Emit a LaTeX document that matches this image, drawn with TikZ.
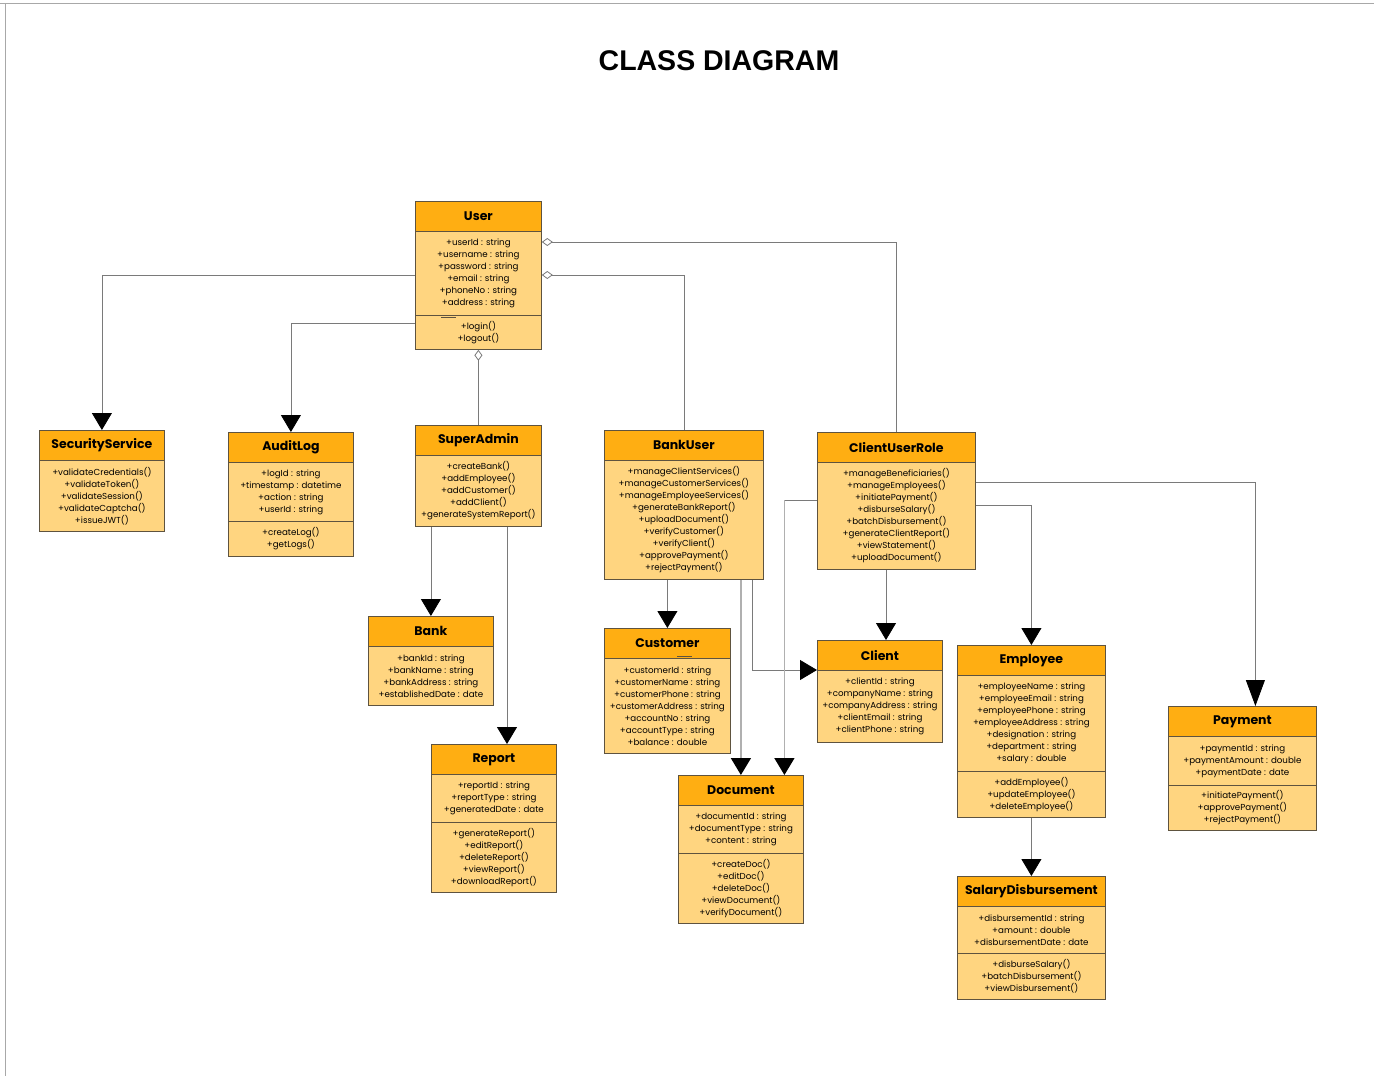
\documentclass[tikz,border=0pt]{standalone}
\usepackage{fontspec}
\newfontfamily\pop{Poppins}
\newfontfamily\ttlfont{Liberation Sans}
\usetikzlibrary{arrows.meta}
\definecolor{hdrc}{HTML}{FFAE12}
\definecolor{bodyc}{HTML}{FFD580}
\definecolor{bordc}{HTML}{5E533F}
\definecolor{connc}{HTML}{7A7A7A}
\definecolor{docc}{HTML}{B0B0B0}
\definecolor{framec}{HTML}{A8A8A8}
\begin{document}
\begin{tikzpicture}[x=1pt,y=-1pt,
  hdr/.style={draw=bordc, fill=hdrc, line width=0.8pt, anchor=north west, inner sep=0pt, minimum height=30pt, font=\pop\bfseries\fontsize{12.5}{14}\selectfont, text=black},
  comp/.style={draw=bordc, fill=bodyc, line width=0.8pt, anchor=north west, inner sep=0pt, align=center, font=\pop\fontsize{8.7}{12}\selectfont, text=black},
  conn/.style={draw=connc, line width=0.8pt},
  docconn/.style={draw=docc, line width=1.6pt},
  arr/.style={-{Triangle[width=20pt,length=17pt,color=black]}},
  longarr/.style={-{Triangle[width=19pt,length=26pt,color=black]}},
  agg/.style={{Diamond[length=11pt,width=8pt,fill=white]}-}
]
\useasboundingbox (0,0) rectangle (1374,1076);
\fill[white] (0,0) rectangle (1374,1076);
\draw[framec, line width=1pt] (0,3) -- (1374,3);
\draw[framec, line width=1pt] (5,3) -- (5,1076);

\node[font=\ttlfont\bfseries\fontsize{28.5}{32}\selectfont] (title) at (719,61) {CLASS DIAGRAM};

% User
\node[hdr, minimum width=126pt] (user) at (415,201) {User};
\node[comp, minimum width=126pt, minimum height=84pt] (ua) at (415,231) {+userId : string\\+username : string\\+password : string\\+email : string\\+phoneNo : string\\+address : string};
\node[comp, minimum width=126pt, minimum height=34pt] (um) at (415,315) {+login()\\+logout()};
\draw[bordc, line width=0.5pt] (441,317) -- (456,317);

% SecurityService
\node[hdr, minimum width=125pt] (sec) at (39,430) {SecurityService};
\node[comp, minimum width=125pt, minimum height=71pt] (secm) at (39,460) {+validateCredentials()\\+validateToken()\\+validateSession()\\+validateCaptcha()\\+issueJWT()};

% AuditLog
\node[hdr, minimum width=125pt] (aud) at (228,432) {AuditLog};
\node[comp, minimum width=125pt, minimum height=59pt] (auda) at (228,462) {+logId : string\\+timestamp : datetime\\+action : string\\+userId : string};
\node[comp, minimum width=125pt, minimum height=35pt] (audm) at (228,521) {+createLog()\\+getLogs()};

% SuperAdmin
\node[hdr, minimum width=126pt] (sa) at (415,425) {SuperAdmin};
\node[comp, minimum width=126pt, minimum height=71pt] (sam) at (415,455) {+createBank()\\+addEmployee()\\+addCustomer()\\+addClient()\\+generateSystemReport()};

% Bank
\node[hdr, minimum width=125pt] (bank) at (368,616) {Bank};
\node[comp, minimum width=125pt, minimum height=59pt] (banka) at (368,646) {+bankId : string\\+bankName : string\\+bankAddress : string\\+establishedDate : date};

% Report
\node[hdr, minimum width=125pt] (rep) at (431,744) {Report};
\node[comp, minimum width=125pt, minimum height=48pt] (repa) at (431,774) {+reportId : string\\+reportType : string\\+generatedDate : date};
\node[comp, minimum width=125pt, minimum height=70pt] (repm) at (431,822) {+generateReport()\\+editReport()\\+deleteReport()\\+viewReport()\\+downloadReport()};

% BankUser
\node[hdr, minimum width=159pt] (bu) at (604,430) {BankUser};
\node[comp, minimum width=159pt, minimum height=119pt] (bum) at (604,460) {+manageClientServices()\\+manageCustomerServices()\\+manageEmployeeServices()\\+generateBankReport()\\+uploadDocument()\\+verifyCustomer()\\+verifyClient()\\+approvePayment()\\+rejectPayment()};

% Customer
\node[hdr, minimum width=126pt] (cust) at (604,628) {Customer};
\node[comp, minimum width=126pt, minimum height=95pt] (custa) at (604,658) {+customerId : string\\+customerName : string\\+customerPhone : string\\+customerAddress : string\\+accountNo : string\\+accountType : string\\+balance : double};
\draw[bordc, line width=0.5pt] (677,656) -- (692,656);

% Document
\node[hdr, minimum width=125pt] (doc) at (678,775) {Document};
\node[comp, minimum width=125pt, minimum height=48pt] (doca) at (678,805) {+documentId : string\\+documentType : string\\+content : string};
\node[comp, minimum width=125pt, minimum height=70pt] (docm) at (678,853) {+createDoc()\\+editDoc()\\+deleteDoc()\\+viewDocument()\\+verifyDocument()};

% ClientUserRole
\node[hdr, minimum width=158pt] (cur) at (817,432) {ClientUserRole};
\node[comp, minimum width=158pt, minimum height=107pt] (curm) at (817,462) {+manageBeneficiaries()\\+manageEmployees()\\+initiatePayment()\\+disburseSalary()\\+batchDisbursement()\\+generateClientReport()\\+viewStatement()\\+uploadDocument()};

% Client
\node[hdr, minimum width=125pt] (cli) at (817,640) {Client};
\node[comp, minimum width=125pt, minimum height=72pt] (clia) at (817,670) {+clientId : string\\+companyName : string\\+companyAddress : string\\+clientEmail : string\\+clientPhone : string};

% Employee
\node[hdr, minimum width=148pt] (emp) at (957,645) {Employee};
\node[comp, minimum width=148pt, minimum height=96pt] (empa) at (957,675) {+employeeName : string\\+employeeEmail : string\\+employeePhone : string\\+employeeAddress : string\\+designation : string\\+department : string\\+salary : double};
\node[comp, minimum width=148pt, minimum height=46pt] (empm) at (957,771) {+addEmployee()\\+updateEmployee()\\+deleteEmployee()};

% SalaryDisbursement
\node[hdr, minimum width=148pt] (sal) at (957,876) {SalaryDisbursement};
\node[comp, minimum width=148pt, minimum height=47pt] (sala) at (957,906) {+disbursementId : string\\+amount : double\\+disbursementDate : date};
\node[comp, minimum width=148pt, minimum height=46pt] (salm) at (957,953) {+disburseSalary()\\+batchDisbursement()\\+viewDisbursement()};

% Payment
\node[hdr, minimum width=148pt] (pay) at (1168,706) {Payment};
\node[comp, minimum width=148pt, minimum height=49pt] (paya) at (1168,736) {+paymentId : string\\+paymentAmount : double\\+paymentDate : date};
\node[comp, minimum width=148pt, minimum height=45pt] (paym) at (1168,785) {+initiatePayment()\\+approvePayment()\\+rejectPayment()};

% helper coordinates
\coordinate (repx) at ([xshift=92pt]sam.south west);
\coordinate (clix) at ([xshift=69pt]curm.south west);
\coordinate (bux) at ([xshift=-11pt]bum.south east);
\coordinate (docx) at ([xshift=43.5pt]doc.north);
\coordinate (payx) at ([xshift=13pt]pay.north);
\coordinate (cy) at ([yshift=-38pt]curm.north west);
\coordinate (cturn) at (docx |- cy);

% connectors
\draw[conn,arr] ([yshift=-44pt]ua.north west) -| (sec.north);
\draw[conn,arr] ([yshift=-8pt]um.north west) -| (aud.north);
\draw[conn,agg] (um.south) -- (sa.north);
\draw[conn,agg] ([yshift=-11pt]ua.north east) -| (cur.north);
\draw[conn,agg] ([yshift=-44pt]ua.north east) -| (bu.north);
\draw[conn,arr] (bank.north |- sam.south) -- (bank.north);
\draw[conn,arr] (repx) -- (repx |- rep.north);
\draw[conn,arr] (cust.north |- bum.south) -- (cust.north);
\draw[docconn,arr] (doc.north |- bum.south) -- (doc.north);
\draw[conn,arr] (bux) |- (clia.north west);
\draw[conn] (cy) -- (cturn);
\draw[docconn,arr] (cturn) -- (docx);
\draw[conn,arr] (clix) -- (clix |- cli.north);
\draw[conn,arr] ([yshift=-43pt]curm.north east) -| (emp.north);
\draw[conn,longarr] ([yshift=-20pt]curm.north east) -| (payx);
\draw[conn,arr] (empm.south) -- (sal.north);
\end{tikzpicture}
\end{document}
